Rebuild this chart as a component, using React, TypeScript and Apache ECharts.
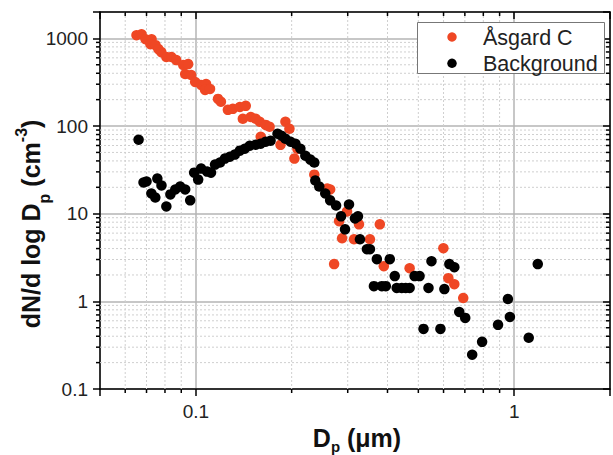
import { useEffect, useRef } from 'react';
import * as echarts from 'echarts';

// ---- data ----
const seriesNames = ['Åsgard C', 'Background'];

const asgardD = [
  0.0651, 0.0675, 0.0695, 0.0726, 0.072, 0.0747, 0.0763, 0.0779, 0.0808, 0.0838,
  0.0868, 0.0913, 0.0946, 0.0926, 0.0967, 0.0995, 0.1039, 0.1077, 0.1069, 0.1108,
  0.1174, 0.1199, 0.1261, 0.1307, 0.1375, 0.1435, 0.1405, 0.1488, 0.1542, 0.1587,
  0.1657, 0.1705, 0.1599, 0.1912, 0.1968, 0.1845, 0.204, 0.2085, 0.2356, 0.2587,
  0.2642, 0.2719, 0.2819, 0.2985, 0.3255, 0.288, 0.314, 0.3523, 0.3784, 0.3895,
  0.4694, 0.5993, 0.6212, 0.6486, 0.6918,
];
const asgardN = [
  1087, 1116, 979, 979, 859, 837, 754, 697, 612, 612,
  565, 496, 509, 392, 382, 318, 294, 302, 258, 265,
  204, 189, 153, 157, 165, 170, 121, 127, 121, 112,
  103, 98, 75.5, 112, 93, 61, 42.5, 55, 27.9, 19.4,
  18.9, 2.66, 8.2, 10.6, 7.56, 5.24, 5.1, 5.1, 7.56, 2.52,
  2.39, 4.04, 1.84, 1.57, 1.09,
];

const backgroundD = [
  0.0661, 0.0685, 0.07, 0.0725, 0.0746, 0.0757, 0.078, 0.0808, 0.0832, 0.0862,
  0.0893, 0.0926, 0.096, 0.0988, 0.1017, 0.1039, 0.1085, 0.1116, 0.1149, 0.1191,
  0.1234, 0.1279, 0.1326, 0.1375, 0.1425, 0.1477, 0.1542, 0.1598, 0.1657, 0.1717,
  0.1806, 0.1858, 0.1912, 0.1983, 0.2055, 0.213, 0.2208, 0.2289, 0.2356, 0.2373,
  0.2442, 0.255, 0.2642, 0.2758, 0.3028, 0.2859, 0.3162, 0.3231, 0.2942, 0.3278,
  0.3447, 0.3523, 0.3704, 0.4067, 0.4216, 0.3626, 0.384, 0.3952, 0.4276, 0.4433,
  0.4562, 0.4695, 0.4866, 0.5044, 0.5381, 0.5498, 0.6036, 0.6257, 0.6486, 0.5191,
  0.5866, 0.6722, 0.7018, 0.7381, 0.793, 0.8898, 0.9557, 0.9696, 1.111, 1.186,
];
const backgroundN = [
  69.8, 22.7, 23.3, 17.0, 15.3, 25.2, 21.0, 12.1, 16.6, 18.9,
  20.4, 18.9, 14.2, 29.4, 24.5, 32.7, 30.2, 29.4, 36.3, 38.3,
  42.5, 44.7, 47.2, 52.4, 55.1, 59.7, 61.2, 62.9, 66.3, 68.0,
  81.7, 77.5, 71.6, 66.3, 62.9, 55.1, 45.9, 41.4, 38.3, 23.9,
  20.4, 17.0, 14.2, 12.4, 12.75, 9.32, 8.84, 9.32, 6.63, 5.1,
  3.93, 3.93, 3.03, 3.03, 1.94, 1.49, 1.49, 1.49, 1.42, 1.42,
  1.42, 1.42, 1.94, 1.94, 1.42, 2.87, 1.38, 2.66, 2.45, 0.485,
  0.485, 0.757, 0.647, 0.246, 0.345, 0.539, 1.063, 0.664, 0.384, 2.66,
];

const xRange = [0.05, 2];
const yRange = [0.1, 2000];
const xTickLabels = ['0.1', '1'];
const yTickLabels = ['0.1', '1', '10', '100', '1000'];
const xMinorTicks = [0.06, 0.07, 0.08, 0.09, 0.2, 0.3, 0.4, 0.5, 0.6, 0.7, 0.8, 0.9];
const yMinorTicks = [
  0.2, 0.3, 0.4, 0.5, 0.6, 0.7, 0.8, 0.9,
  2, 3, 4, 5, 6, 7, 8, 9,
  20, 30, 40, 50, 60, 70, 80, 90,
  200, 300, 400, 500, 600, 700, 800, 900,
];

const FONT = '"Liberation Sans", Arial, Helvetica, sans-serif';
const RED = '#ef4724';
const COLORS = [RED, '#000'];

function textWidth(t: string, size: number, weight: string) {
  const ctx = document.createElement('canvas').getContext('2d');
  if (!ctx) return t.length * size * 0.6;
  ctx.font = `${weight} ${size}px ${FONT}`;
  return ctx.measureText(t).width;
}

type Piece = { text: string; size: number; dy: number };

function titleGroup(pieces: Piece[], x: number, y: number, rotation: number) {
  const widths = pieces.map((p) => textWidth(p.text, p.size, 'bold'));
  const total = widths.reduce((a, b) => a + b, 0);
  let cx = -total / 2;
  const children = pieces.map((p, i) => {
    const el = {
      type: 'text',
      x: cx,
      y: p.dy,
      z: 100,
      style: {
        text: p.text,
        font: `bold ${p.size}px ${FONT}`,
        fill: '#111',
        align: 'left',
        verticalAlign: 'middle',
      },
    };
    cx += widths[i];
    return el;
  });
  return { type: 'group', x, y, rotation, children, silent: true };
}

function legendGroup() {
  const children: any[] = [
    {
      type: 'rect',
      z: 100,
      shape: { x: 417.5, y: 22.5, width: 187, height: 51 },
      style: { fill: '#fff', stroke: '#777', lineWidth: 1 },
    },
  ];
  seriesNames.forEach((n, i) => {
    const cy = 37 + i * 26.3;
    children.push({
      type: 'circle',
      z: 101,
      shape: { cx: 452, cy, r: 4.7 },
      style: { fill: COLORS[i], stroke: null },
    });
    children.push({
      type: 'text',
      z: 101,
      x: 483,
      y: cy + 0.5,
      style: {
        text: n,
        font: `21.5px ${FONT}`,
        fill: '#222',
        align: 'left',
        verticalAlign: 'middle',
      },
    });
  });
  return { type: 'group', silent: true, children };
}

function matchLabel(v: number, labels: string[]) {
  for (const l of labels) {
    if (Math.abs(Math.log10(v) - Math.log10(parseFloat(l))) < 1e-6) return l;
  }
  return '';
}

export default function App() {
  const ref = useRef<HTMLDivElement>(null);

  useEffect(() => {
    if (!ref.current) return;
    const chart = echarts.init(ref.current, null, { renderer: 'svg' });

    const axisLine = { show: true, onZero: false, lineStyle: { color: '#000', width: 1.5 } };
    const tickStyle = { color: '#000', width: 1.5 };
    const labelStyle = { fontSize: 19, fontFamily: FONT, color: '#222' };

    const option: any = {
      animation: false,
      backgroundColor: '#fff',
      grid: { left: 100, right: 2, top: 12, bottom: 66 },
      xAxis: [
        {
          type: 'log', logBase: 10, min: xRange[0], max: xRange[1], position: 'bottom',
          axisLine,
          axisTick: { show: true, inside: false, length: 7, lineStyle: tickStyle },
          axisLabel: { ...labelStyle, margin: 13, formatter: (v: number) => matchLabel(v, xTickLabels) },
          splitLine: { show: true, lineStyle: { color: '#b4b4b4', width: 1.5 } },
        },
        {
          type: 'log', logBase: 10, min: xRange[0], max: xRange[1], position: 'top',
          axisLine,
          axisTick: { show: true, inside: true, length: 7, lineStyle: tickStyle },
          axisLabel: { show: false },
          splitLine: { show: false },
        },
      ],
      yAxis: [
        {
          type: 'log', logBase: 10, min: yRange[0], max: yRange[1], position: 'left',
          axisLine,
          axisTick: { show: true, inside: false, length: 7, lineStyle: tickStyle },
          axisLabel: { ...labelStyle, margin: 12, formatter: (v: number) => matchLabel(v, yTickLabels) },
          splitLine: { show: true, lineStyle: { color: '#b4b4b4', width: 1.5 } },
        },
        {
          type: 'log', logBase: 10, min: yRange[0], max: yRange[1], position: 'right',
          axisLine,
          axisTick: { show: true, inside: true, length: 7, lineStyle: tickStyle },
          axisLabel: { show: false },
          splitLine: { show: false },
        },
      ],
      series: [
        {
          type: 'custom',
          name: 'xMinor',
          xAxisIndex: 0,
          yAxisIndex: 0,
          silent: true,
          z: 1,
          clip: false,
          encode: { x: 0, y: 1 },
          data: xMinorTicks.map((v) => [v, 1]),
          renderItem: (params: any, api: any) => {
            const cs = params.coordSys;
            const x = api.coord([api.value(0), 1])[0];
            const bottom = cs.y + cs.height;
            return {
              type: 'group',
              children: [
                { type: 'line', shape: { x1: x, y1: cs.y, x2: x, y2: bottom }, style: { stroke: '#cfcfcf', lineWidth: 1, lineDash: [2, 2] } },
                { type: 'line', shape: { x1: x, y1: bottom, x2: x, y2: bottom + 4 }, style: { stroke: '#000', lineWidth: 1.5 } },
                { type: 'line', shape: { x1: x, y1: cs.y, x2: x, y2: cs.y + 4 }, style: { stroke: '#000', lineWidth: 1.5 } },
              ],
            };
          },
        },
        {
          type: 'custom',
          name: 'yMinor',
          xAxisIndex: 0,
          yAxisIndex: 0,
          silent: true,
          z: 1,
          clip: false,
          encode: { x: 0, y: 1 },
          data: yMinorTicks.map((v) => [0.1, v]),
          renderItem: (params: any, api: any) => {
            const cs = params.coordSys;
            const y = api.coord([0.1, api.value(1)])[1];
            const right = cs.x + cs.width;
            return {
              type: 'group',
              children: [
                { type: 'line', shape: { x1: cs.x, y1: y, x2: right, y2: y }, style: { stroke: '#cfcfcf', lineWidth: 1, lineDash: [2, 2] } },
                { type: 'line', shape: { x1: cs.x - 4, y1: y, x2: cs.x, y2: y }, style: { stroke: '#000', lineWidth: 1.5 } },
                { type: 'line', shape: { x1: right - 4, y1: y, x2: right, y2: y }, style: { stroke: '#000', lineWidth: 1.5 } },
              ],
            };
          },
        },
        {
          type: 'scatter',
          name: seriesNames[0],
          data: asgardD.map((d, i) => [d, asgardN[i]]),
          symbol: 'circle',
          symbolSize: 10.5,
          itemStyle: { color: COLORS[0], opacity: 1 },
          z: 3,
        },
        {
          type: 'scatter',
          name: seriesNames[1],
          data: backgroundD.map((d, i) => [d, backgroundN[i]]),
          symbol: 'circle',
          symbolSize: 10.5,
          itemStyle: { color: COLORS[1], opacity: 1 },
          z: 4,
        },
      ],
      graphic: [
        titleGroup(
          [
            { text: 'dN/d log D', size: 25, dy: 0 },
            { text: 'p', size: 16, dy: 13 },
            { text: ' (cm', size: 25, dy: 0 },
            { text: '-3', size: 16, dy: -10 },
            { text: ')', size: 25, dy: 0 },
          ],
          31, 224, Math.PI / 2,
        ),
        titleGroup(
          [
            { text: 'D', size: 25, dy: 0 },
            { text: 'p', size: 15, dy: 8 },
            { text: ' (\u03bcm)', size: 25, dy: 0 },
          ],
          357, 438, 0,
        ),
        legendGroup(),
      ],
    };

    chart.setOption(option);
    return () => chart.dispose();
  }, []);

  return (
    <div
      ref={ref}
      style={{ position: 'fixed', left: 0, top: 0, width: 613, height: 455, background: '#fff' }}
    />
  );
}
